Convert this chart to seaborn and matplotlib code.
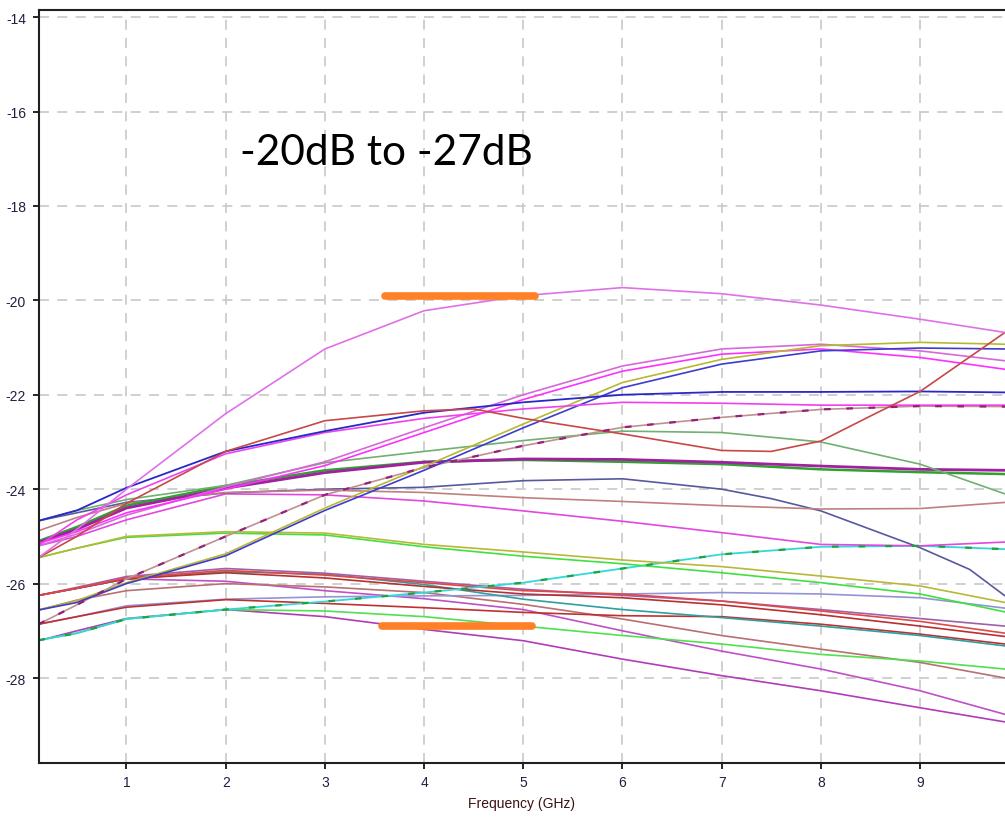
import matplotlib
matplotlib.use("Agg")
import matplotlib.pyplot as plt
import seaborn as sns

# ---------------- data ----------------
FREQ = [0.113, 0.5, 1, 2, 3, 4, 5, 6, 7, 8, 9, 9.856]

ORCHID_TOP = [-25.45, -24.85, -24.0, -22.4, -21.03, -20.22, -19.9, -19.73, -19.86, -20.1, -20.4, -20.68]
RED_X = [0.113, 0.5, 1, 2, 3, 4, 4.5, 5, 6, 7, 7.5, 8, 8.5, 9, 9.856]
RED_DIP = [-25.45, -25.0, -24.3, -23.2, -22.55, -22.34, -22.3, -22.5, -22.83, -23.18, -23.2, -22.98, -22.45, -21.93, -20.68]
BLUE_FLAT = [-24.67, -24.45, -23.97, -23.2, -22.77, -22.38, -22.16, -22.0, -21.94, -21.94, -21.93, -21.95]
MAGENTA_FLAT = [-25.19, -24.65, -24.12, -23.25, -22.8, -22.5, -22.3, -22.16, -22.18, -22.22, -22.22, -22.22]
BLUE_RISE = [-26.56, -26.4, -26.0, -25.41, -24.45, -23.6, -22.7, -21.85, -21.35, -21.07, -21.01, -21.03]
OLIVE_RISE = [-26.56, -26.36, -25.98, -25.37, -24.4, -23.52, -22.62, -21.74, -21.25, -20.96, -20.89, -20.93]
ROSY_RISE = [-26.86, -26.45, -25.9, -25.0, -24.12, -23.54, -23.08, -22.69, -22.48, -22.31, -22.24, -22.25]
MAGENTA_RISE = [-25.15, -24.9, -24.5, -24.0, -23.5, -22.8, -22.1, -21.5, -21.14, -21.03, -21.21, -21.46]
ORCHID_RISE = [-25.2, -24.95, -24.55, -23.95, -23.42, -22.7, -22.0, -21.39, -21.03, -20.93, -21.07, -21.28]
GRAYGREEN = [-24.67, -24.45, -24.22, -23.92, -23.44, -23.2, -22.97, -22.77, -22.8, -23.0, -23.47, -24.1]
PURPLE_MID = [-25.13, -24.85, -24.4, -23.98, -23.65, -23.43, -23.36, -23.37, -23.43, -23.51, -23.58, -23.6]
GREEN_MID = [-25.1, -24.8, -24.35, -23.93, -23.6, -23.42, -23.38, -23.42, -23.47, -23.58, -23.64, -23.68]
ROSY_FLAT = [-24.88, -24.6, -24.3, -24.07, -24.02, -24.07, -24.18, -24.26, -24.35, -24.42, -24.41, -24.28]
SLATE_X = [0.113, 0.5, 1, 2, 3, 4, 5, 6, 7, 7.5, 8, 8.5, 9, 9.5, 9.856]
SLATE_DROP = [-24.67, -24.5, -24.28, -24.08, -24.0, -23.96, -23.82, -23.78, -24.0, -24.2, -24.46, -24.85, -25.24, -25.7, -26.26]
MAGENTA_LOW = [-25.2, -25.0, -24.65, -24.1, -24.12, -24.25, -24.46, -24.68, -24.92, -25.17, -25.2, -25.12]
OLIVE_FLAT = [-25.45, -25.25, -25.0, -24.9, -24.93, -25.17, -25.33, -25.5, -25.64, -25.84, -26.05, -26.4]
GREEN_FLAT = [-25.45, -25.25, -25.02, -24.93, -24.97, -25.22, -25.42, -25.58, -25.77, -25.98, -26.22, -26.6]
CYAN_RISE = [-27.2, -27.05, -26.75, -26.55, -26.38, -26.19, -25.98, -25.68, -25.38, -25.22, -25.2, -25.27]
GREEN_LOW = [-27.2, -27.05, -26.75, -26.55, -26.58, -26.7, -26.9, -27.1, -27.28, -27.5, -27.64, -27.81]
LAVENDER = [-26.86, -26.7, -26.47, -26.33, -26.28, -26.26, -26.25, -26.22, -26.19, -26.22, -26.3, -26.52]
RED_LOW = [-26.86, -26.7, -26.5, -26.34, -26.42, -26.51, -26.61, -26.68, -26.7, -26.86, -27.07, -27.28]
TEAL = [-26.25, -26.1, -25.9, -25.75, -25.8, -26.02, -26.33, -26.55, -26.72, -26.9, -27.1, -27.32]
RED_A = [-26.25, -26.1, -25.88, -25.72, -25.82, -25.98, -26.15, -26.22, -26.37, -26.58, -26.8, -27.05]
RED_B = [-26.25, -26.1, -25.9, -25.77, -25.88, -26.06, -26.22, -26.3, -26.45, -26.66, -26.9, -27.12]
PURPLE_GREY = [-26.25, -26.08, -25.85, -25.68, -25.78, -25.95, -26.12, -26.25, -26.37, -26.55, -26.74, -26.9]
BROWN = [-26.56, -26.35, -26.15, -26.0, -26.07, -26.19, -26.44, -26.75, -27.1, -27.39, -27.67, -28.0]
PURPLE_HI = [-26.25, -26.1, -25.9, -25.95, -26.15, -26.32, -26.55, -27.0, -27.43, -27.81, -28.27, -28.77]
PURPLE_LO = [-27.21, -27.0, -26.74, -26.55, -26.7, -26.97, -27.21, -27.6, -27.95, -28.27, -28.63, -28.93]

MARK_X_TOP = [3.61, 5.12]
MARK_Y_TOP = [-19.9, -19.9]
MARK_X_BOT = [3.58, 5.09]
MARK_Y_BOT = [-26.9, -26.9]

XTICKS = [1, 2, 3, 4, 5, 6, 7, 8, 9]
XTICK_LABELS = ["1", "2", "3", "4", "5", "6", "7", "8", "9"]
YTICKS = [-28, -26, -24, -22, -20, -18, -16, -14]
YTICK_LABELS = ["-28", "-26", "-24", "-22", "-20", "-18", "-16", "-14"]
X_LABEL = "Frequency (GHz)"
NOTE = "-20dB to -27dB"

# ---------------- styling ----------------
sns.set_theme(style="white")
plt.rcParams["font.family"] = ["DejaVu Sans"]

fig = plt.figure(figsize=(10.05, 8.2), dpi=100)
ax = fig.add_axes([38.5 / 1005, 1 - 764 / 820, (1005 - 38.5) / 1005, (764 - 11) / 820])

series = [
    (FREQ, PURPLE_LO, "#b03cb8", 1.2),
    (FREQ, PURPLE_HI, "#c050c8", 1.2),
    (FREQ, BROWN, "#b87070", 1.2),
    (FREQ, GREEN_LOW, "#50e050", 1.2),
    (FREQ, LAVENDER, "#9494d4", 1.2),
    (FREQ, RED_LOW, "#c03030", 1.2),
    (FREQ, TEAL, "#2ea0a0", 1.2),
    (FREQ, PURPLE_GREY, "#a060a8", 1.2),
    (FREQ, RED_B, "#b83030", 1.2),
    (FREQ, RED_A, "#e04848", 1.2),
    (FREQ, CYAN_RISE, "#30d8d8", 1.3),
    (FREQ, GREEN_FLAT, "#40e040", 1.2),
    (FREQ, OLIVE_FLAT, "#b8b838", 1.2),
    (FREQ, MAGENTA_LOW, "#e048e0", 1.2),
    (SLATE_X, SLATE_DROP, "#5858a0", 1.2),
    (FREQ, ROSY_FLAT, "#c08080", 1.2),
    (FREQ, GREEN_MID, "#30a030", 1.8),
    (FREQ, PURPLE_MID, "#a020a0", 2.0),
    (FREQ, GRAYGREEN, "#70b070", 1.2),
    (FREQ, ORCHID_RISE, "#d868d8", 1.2),
    (FREQ, MAGENTA_RISE, "#ff30ff", 1.2),
    (FREQ, ROSY_RISE, "#c09090", 1.2),
    (FREQ, OLIVE_RISE, "#b8b830", 1.2),
    (FREQ, BLUE_RISE, "#3c3cd0", 1.2),
    (FREQ, MAGENTA_FLAT, "#f040f0", 1.2),
    (FREQ, BLUE_FLAT, "#2828c8", 1.3),
    (RED_X, RED_DIP, "#c84848", 1.2),
    (FREQ, ORCHID_TOP, "#e070e8", 1.2),
]
for xs, ys, col, lw in series:
    sns.lineplot(x=xs, y=ys, color=col, linewidth=lw, ax=ax, sort=False,
                 estimator=None, legend=False)

# dashed overlays visible on the reference (coinciding traces)
sns.lineplot(x=FREQ, y=ROSY_RISE, color="#981e78", linewidth=1.6, ax=ax, sort=False,
             estimator=None, legend=False, linestyle=(0, (3, 7)))
sns.lineplot(x=FREQ, y=CYAN_RISE, color="#20a040", linewidth=1.6, ax=ax, sort=False,
             estimator=None, legend=False, linestyle=(0, (3, 9)))

# orange range markers
for mx, my in [(MARK_X_TOP, MARK_Y_TOP), (MARK_X_BOT, MARK_Y_BOT)]:
    ax.plot(mx, my, color="#ff8026", linewidth=5.5, linestyle="-",
            solid_capstyle="round", zorder=5)

ax.text(2.144, -17.11, NOTE, fontsize=30.5, family=["Lato", "DejaVu Sans"],
        color="black", ha="left", va="baseline")

ax.set_xlim(0.113, 9.856)
ax.set_ylim(-29.8, -13.85)
ax.set_xticks(XTICKS)
ax.set_xticklabels(XTICK_LABELS)
ax.set_yticks(YTICKS)
ax.set_yticklabels(YTICK_LABELS)

tick_font = ["Liberation Sans", "DejaVu Sans"]
for lab in ax.get_xticklabels() + ax.get_yticklabels():
    lab.set_family(tick_font)
    lab.set_fontsize(10)
    lab.set_color("#202040")
ax.tick_params(axis="both", direction="out", length=4, width=1.2, color="black",
               pad=5, bottom=True, left=True)

ax.set_xlabel(X_LABEL, fontsize=10, family=tick_font, color="#3a1212", labelpad=5)
ax.set_ylabel("")

ax.grid(True, color="#c8c8c8", linestyle=(0, (6, 5)), linewidth=1.2)
ax.set_axisbelow(True)
for side in ["left", "bottom", "top"]:
    ax.spines[side].set_visible(True)
    ax.spines[side].set_color("#202020")
    ax.spines[side].set_linewidth(1.5)
ax.spines["right"].set_visible(False)
ax.set_facecolor("white")
fig.patch.set_facecolor("white")

fig.savefig("out.png", dpi=100, facecolor="white")
